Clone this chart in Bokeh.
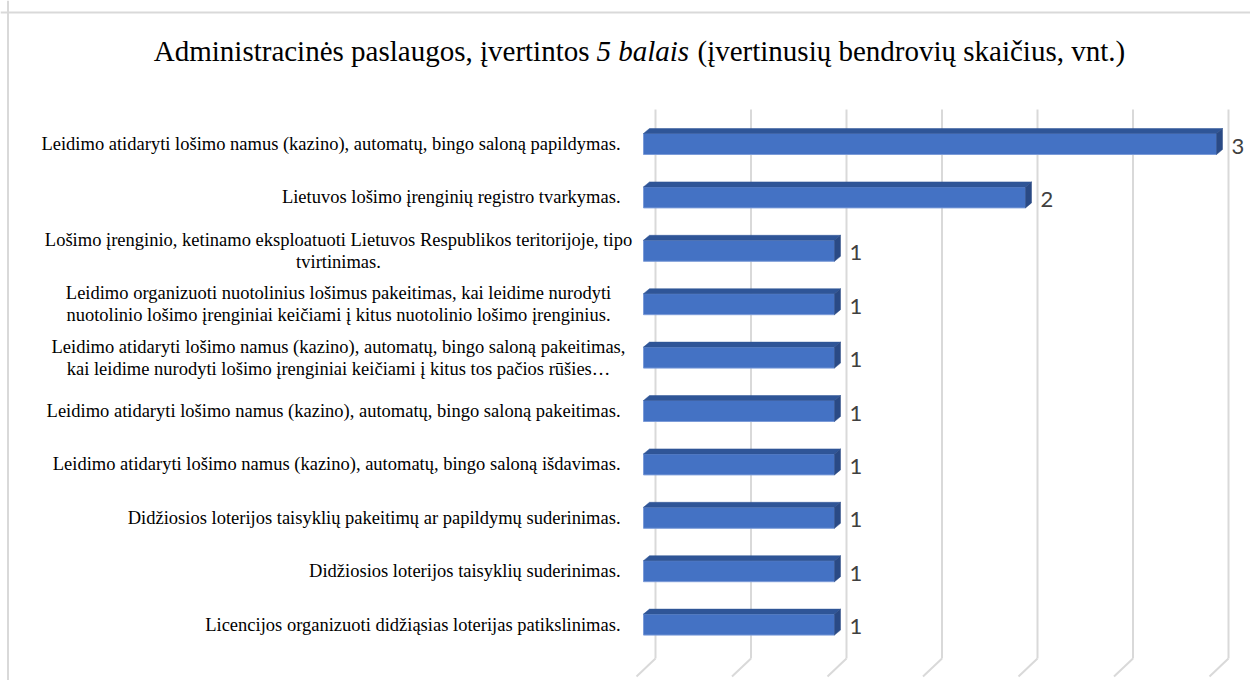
from bokeh.plotting import figure
from bokeh.models import Range1d, Span
from bokeh.core.properties import value
from bokeh.embed import file_html
from bokeh.resources import INLINE

# ---------------- data ----------------
categories = [
    "Leidimo atidaryti lošimo namus (kazino), automatų, bingo saloną papildymas.",
    "Lietuvos lošimo įrenginių registro tvarkymas.",
    "Lošimo įrenginio, ketinamo eksploatuoti Lietuvos Respublikos teritorijoje, tipo\ntvirtinimas.",
    "Leidimo organizuoti nuotolinius lošimus pakeitimas, kai leidime nurodyti\nnuotolinio lošimo įrenginiai keičiami į kitus nuotolinio lošimo įrenginius.",
    "Leidimo atidaryti lošimo namus (kazino), automatų, bingo saloną pakeitimas,\nkai leidime nurodyti lošimo įrenginiai keičiami į kitus tos pačios rūšies…",
    "Leidimo atidaryti lošimo namus (kazino), automatų, bingo saloną pakeitimas.",
    "Leidimo atidaryti lošimo namus (kazino), automatų, bingo saloną išdavimas.",
    "Didžiosios loterijos taisyklių pakeitimų ar papildymų suderinimas.",
    "Didžiosios loterijos taisyklių suderinimas.",
    "Licencijos organizuoti didžiąsias loterijas patikslinimas.",
]
values = [3, 2, 1, 1, 1, 1, 1, 1, 1, 1]
ticks = [0, 0.5, 1, 1.5, 2, 2.5, 3]
title_parts = [
    "Administracinės paslaugos, įvertintos ",
    "5 balais",
    " (įvertinusių bendrovių skaičius, vnt.)",
]

# ---------------- layout (pixel geometry of the page) ----------------
W, H = 1250, 680
PAGE = 0
X0_PX, PX_PER_UNIT = 643.0, 191.0
Y0_PX, PX_PER_CAT = 143.5, 53.4


def xd(px):
    return (px - X0_PX) / PX_PER_UNIT


def yd(py):
    return (py - Y0_PX) / PX_PER_CAT


def dx(px):
    return px / PX_PER_UNIT


def dy(py):
    return py / PX_PER_CAT


p = figure(
    width=W, height=H,
    x_range=Range1d(xd(PAGE), xd(PAGE + W)),
    y_range=Range1d(yd(PAGE + H), yd(PAGE)),
    output_backend="svg", toolbar_location=None,
    min_border=0,
)
p.axis.visible = False
p.grid.visible = False
p.outline_line_color = None
p.background_fill_color = "white"
p.border_fill_color = "white"

# chart border (top and left visible)
p.add_layout(Span(location=xd(7.5), dimension="height", line_color="#D9D9D9", line_width=2))
p.add_layout(Span(location=yd(12), dimension="width", line_color="#D9D9D9", line_width=2))

# ---------------- back-wall gridlines with floor feet ----------------
GRID_SHIFT = dx(12)
gx = [t + GRID_SHIFT for t in ticks]
g_top, g_bot = yd(109), yd(658)
p.segment(x0=gx, y0=[g_top] * len(gx), x1=gx, y1=[g_bot] * len(gx),
          line_color="#D9D9D9", line_width=2)
p.segment(x0=gx, y0=[g_bot] * len(gx), x1=[x - dx(19) for x in gx],
          y1=[g_bot + dy(18)] * len(gx), line_color="#D9D9D9", line_width=2)

# ---------------- 3D bars ----------------
n = len(categories)
ys = list(range(n))
h = dy(21)
ddx, ddy = dx(6), dy(5)

p.quad(left=[0] * n, right=values, top=[y - h / 2 for y in ys], bottom=[y + h / 2 for y in ys],
       fill_color="#4472C4", line_color="#7B9BD8", line_width=1)
p.patches(
    xs=[[0, ddx, v + ddx, v] for v in values],
    ys=[[y - h / 2, y - h / 2 - ddy, y - h / 2 - ddy, y - h / 2] for y in ys],
    fill_color="#2F5597", line_color="#2F5597", line_width=0.5)
p.patches(
    xs=[[v, v + ddx, v + ddx, v] for v in values],
    ys=[[y - h / 2, y - h / 2 - ddy, y + h / 2 - ddy, y + h / 2] for y in ys],
    fill_color="#2A4A85", line_color="#2A4A85", line_width=0.5)

# value labels
p.text(x=[v + dx(15) for v in values], y=[y + dy(2) for y in ys], text=[str(v) for v in values],
       text_align="left", text_baseline="middle", text_font=value("Lato"),
       text_font_size="22px", text_color="#404040")

# category labels
SERIF = value("Times New Roman")
single = [(c, y) for c, y in zip(categories, ys) if "\n" not in c]
multi = [(c, y) for c, y in zip(categories, ys) if "\n" in c]
p.text(x=[xd(620)] * len(single), y=[y for _, y in single], text=[c for c, _ in single],
       text_align="right", text_baseline="middle", text_font=SERIF,
       text_font_size="18.5px", text_color="#000000")
p.text(x=[xd(338)] * len(multi), y=[y for _, y in multi], text=[c for c, _ in multi],
       text_align="center", text_baseline="middle", text_font=SERIF,
       text_font_size="18.5px", text_color="#000000", text_line_height=1.1)

# title (mixed roman / italic)
ty = yd(50)
p.text(x=[xd(589)], y=[ty], text=[title_parts[0].rstrip()], text_align="right", text_baseline="middle",
       text_font=SERIF, text_font_size="29px", text_color="#000000")
p.text(x=[xd(596)], y=[ty], text=[title_parts[1]], text_align="left", text_baseline="middle",
       text_font=SERIF, text_font_style="italic", text_font_size="29px",
       text_color="#000000")
p.text(x=[xd(697)], y=[ty], text=[title_parts[2].lstrip()], text_align="left", text_baseline="middle",
       text_font=SERIF, text_font_size="29px", text_color="#000000")

open("out.html", "w").write(file_html(p, INLINE))
